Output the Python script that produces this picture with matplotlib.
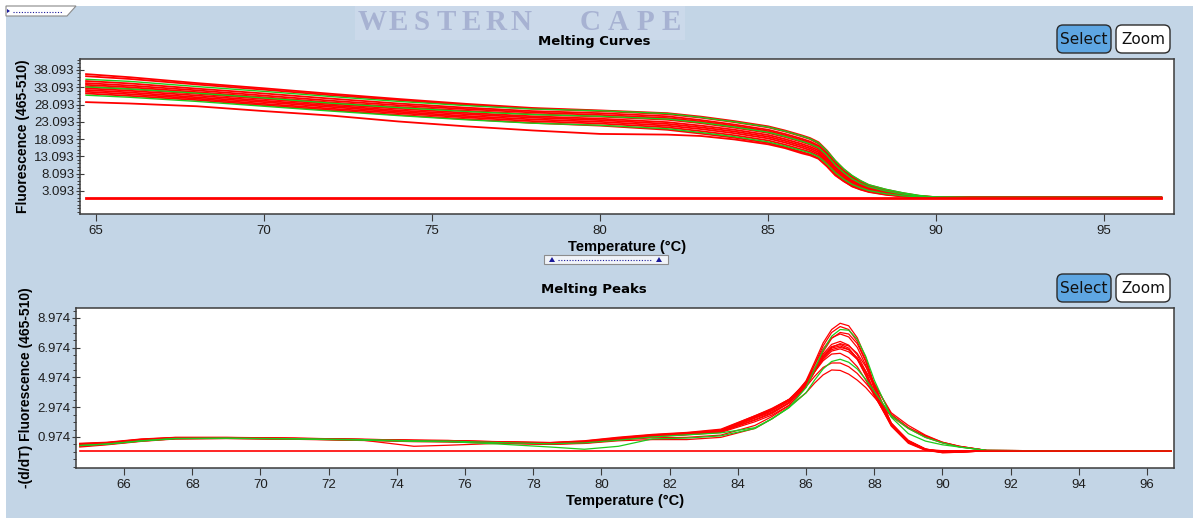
import matplotlib
matplotlib.use("Agg")
import matplotlib.pyplot as plt
from matplotlib.patches import FancyBboxPatch, Polygon, Rectangle
from matplotlib.ticker import MultipleLocator

plt.rcParams['font.family'] = ['Liberation Sans', 'DejaVu Sans']

W, H = 1193, 518
BG = '#c3d5e6'
RED = '#ff0000'
GREEN = '#1ecb1e'
INK = '#1e1e1e'

# ---------------- Melting curves (fluorescence vs temperature) ----------------
melt_temps = [64.7, 66, 68, 70, 72, 74, 76, 78, 80, 82, 83, 84, 85, 85.5, 86,
              86.25, 86.5, 86.75, 87, 87.25, 87.5, 87.75, 88,
              88.5, 89, 89.5, 90, 91, 93, 96.7]

melt_red_curves = [
    [36.9, 36.0, 34.3, 32.8, 31.2, 29.7, 28.3, 27.1, 26.4, 25.6, 24.6, 23.3, 21.8, 20.6, 19.2,
     18.4, 17.2, 14.8, 11.8, 9.4, 7.4, 6.0, 4.8, 3.5, 2.5, 1.7, 1.3, 1.2, 1.2, 1.2],
    [36.3, 35.5, 33.9, 32.4, 30.8, 29.4, 28.0, 26.9, 26.2, 25.3, 24.3, 23.0, 21.5, 20.3, 18.9,
     18.1, 16.8, 14.3, 11.2, 8.9, 7.0, 5.6, 4.5, 3.3, 2.3, 1.6, 1.3, 1.2, 1.2, 1.2],
    [34.9, 34.2, 32.7, 31.3, 29.8, 28.4, 27.2, 26.2, 25.6, 24.7, 23.6, 22.3, 20.8, 19.6, 18.2,
     17.4, 16.2, 13.8, 10.8, 8.5, 6.6, 5.3, 4.3, 3.1, 2.2, 1.55, 1.25, 1.2, 1.2, 1.2],
    [34.3, 33.6, 32.2, 30.7, 29.2, 27.9, 26.8, 25.8, 25.1, 24.2, 23.2, 21.9, 20.4, 19.2, 17.8,
     17.0, 15.8, 13.4, 10.4, 8.1, 6.3, 5.1, 4.1, 3.0, 2.1, 1.5, 1.25, 1.2, 1.2, 1.2],
    [33.8, 33.1, 31.7, 30.2, 28.7, 27.4, 26.3, 25.3, 24.6, 23.7, 22.7, 21.4, 19.9, 18.7, 17.3,
     16.5, 15.3, 12.9, 9.9, 7.8, 6.0, 4.8, 3.9, 2.8, 2.0, 1.45, 1.2, 1.2, 1.2, 1.2],
    [33.3, 32.6, 31.2, 29.7, 28.2, 26.9, 25.7, 24.7, 24.0, 23.0, 22.0, 20.8, 19.3, 18.1, 16.7,
     15.9, 14.8, 12.4, 9.4, 7.4, 5.7, 4.6, 3.7, 2.6, 1.9, 1.4, 1.2, 1.2, 1.2, 1.2],
    [32.8, 32.1, 30.7, 29.2, 27.8, 26.4, 25.3, 24.3, 23.6, 22.5, 21.5, 20.3, 18.8, 17.6, 16.2,
     15.4, 14.3, 11.9, 9.0, 7.0, 5.4, 4.4, 3.5, 2.5, 1.8, 1.35, 1.2, 1.2, 1.2, 1.2],
    [32.3, 31.6, 30.2, 28.8, 27.4, 26.0, 24.8, 23.8, 23.1, 22.0, 21.0, 19.8, 18.3, 17.1, 15.7,
     14.9, 13.8, 11.5, 8.6, 6.7, 5.1, 4.1, 3.3, 2.4, 1.7, 1.3, 1.2, 1.2, 1.2, 1.2],
    [31.8, 31.1, 29.8, 28.3, 26.9, 25.6, 24.4, 23.3, 22.6, 21.5, 20.4, 19.2, 17.7, 16.5, 15.1,
     14.4, 13.3, 11.0, 8.2, 6.3, 4.8, 3.9, 3.1, 2.2, 1.6, 1.3, 1.2, 1.2, 1.2, 1.2],
    [31.3, 30.6, 29.4, 27.9, 26.5, 25.1, 23.9, 22.8, 22.0, 20.8, 19.7, 18.5, 17.0, 15.8, 14.4,
     13.7, 12.6, 10.4, 7.8, 6.0, 4.4, 3.5, 2.8, 2.0, 1.5, 1.25, 1.2, 1.2, 1.2, 1.2],
    [28.8, 28.4, 27.6, 26.2, 24.9, 23.2, 21.8, 20.6, 19.6, 19.4, 19.0, 18.0, 16.6, 15.5, 14.0,
     13.4, 12.4, 10.2, 7.6, 5.9, 4.5, 3.6, 2.9, 2.1, 1.6, 1.3, 1.2, 1.2, 1.2, 1.2],
]

melt_green_curves = [
    [35.4, 34.8, 33.3, 31.9, 30.4, 29.0, 27.8, 26.8, 26.3, 25.5, 24.4, 23.1, 21.6, 20.4, 19.0,
     18.2, 17.0, 14.7, 11.9, 9.5, 7.6, 6.1, 4.9, 3.6, 2.6, 1.8, 1.35, 1.2, 1.2, 1.2],
    [33.2, 32.6, 31.4, 30.0, 28.5, 27.2, 26.1, 25.2, 24.7, 23.9, 22.9, 21.6, 20.1, 18.9, 17.5,
     16.7, 15.6, 13.4, 10.6, 8.4, 6.6, 5.3, 4.3, 3.1, 2.2, 1.6, 1.3, 1.2, 1.2, 1.2],
    [30.8, 30.2, 29.0, 27.6, 26.2, 24.9, 23.7, 22.7, 22.1, 21.1, 20.0, 18.8, 17.3, 16.1, 14.8,
     14.1, 13.0, 10.9, 8.4, 6.5, 5.0, 4.0, 3.2, 2.3, 1.7, 1.35, 1.2, 1.2, 1.2, 1.2],
]

melt_control_temps = [64.7, 96.7]
melt_control = [1.15, 1.15]

melt_xticks = [65, 70, 75, 80, 85, 90, 95]
melt_yticks = [3.093, 8.093, 13.093, 18.093, 23.093, 28.093, 33.093, 38.093]

# ---------------- Melting peaks (-dF/dT vs temperature) ----------------
peak_temps = [64.7, 65.5, 66.5, 67.5, 69, 71, 73, 74.5, 75.5, 77, 78.5, 79.5, 80.5, 81.5,
              82.5, 83.5, 84.5, 85, 85.5, 86, 86.25, 86.5, 86.75, 87, 87.25, 87.5, 87.75,
              88, 88.5, 89, 89.5, 90, 90.5, 91.3, 93, 96.7]

peak_red_curves = [
    [0.50, 0.58, 0.80, 0.92, 0.93, 0.88, 0.80, 0.74, 0.72, 0.64, 0.58, 0.66, 0.86, 1.05, 1.18,
     1.35, 2.25, 2.65, 3.30, 4.75, 6.00, 7.30, 8.20, 8.62, 8.45, 7.65, 6.30, 4.50, 1.90, 0.70,
     0.15, 0.05, 0.05, 0.05, 0.05, 0.05],
    [0.45, 0.55, 0.76, 0.90, 0.92, 0.86, 0.80, 0.72, 0.70, 0.62, 0.56, 0.62, 0.82, 1.02, 1.15,
     1.32, 2.10, 2.55, 3.25, 4.60, 5.85, 7.10, 8.00, 8.40, 8.20, 7.40, 6.10, 4.30, 1.80, 0.60,
     0.12, 0.02, 0.05, 0.05, 0.05, 0.05],
    [0.48, 0.56, 0.78, 0.90, 0.91, 0.87, 0.78, 0.73, 0.70, 0.63, 0.55, 0.64, 0.88, 1.08, 1.20,
     1.38, 2.30, 2.75, 3.40, 4.70, 5.80, 6.90, 7.65, 7.90, 7.70, 7.00, 5.80, 4.20, 1.80, 0.60,
     0.10, -0.05, 0.00, 0.05, 0.05, 0.05],
    [0.52, 0.60, 0.82, 0.94, 0.94, 0.89, 0.82, 0.76, 0.74, 0.65, 0.60, 0.70, 0.92, 1.12, 1.25,
     1.45, 2.40, 2.85, 3.50, 4.65, 5.60, 6.55, 7.20, 7.40, 7.15, 6.50, 5.40, 4.00, 1.90, 0.70,
     0.15, -0.05, -0.02, 0.05, 0.05, 0.05],
    [0.42, 0.52, 0.74, 0.88, 0.90, 0.85, 0.78, 0.70, 0.66, 0.58, 0.50, 0.56, 0.78, 0.92, 0.95,
     1.10, 1.75, 2.35, 3.10, 4.35, 5.35, 6.35, 7.00, 7.25, 7.10, 6.60, 5.70, 4.60, 2.50, 1.60,
     1.05, 0.62, 0.35, 0.07, 0.05, 0.05],
    [0.35, 0.48, 0.70, 0.86, 0.88, 0.84, 0.76, 0.35, 0.42, 0.55, 0.48, 0.60, 0.84, 1.05, 1.18,
     1.40, 2.30, 2.80, 3.45, 4.55, 5.45, 6.35, 6.95, 7.10, 6.85, 6.20, 5.10, 3.80, 1.75, 0.65,
     0.12, -0.08, -0.05, 0.05, 0.05, 0.05],
    [0.50, 0.58, 0.78, 0.90, 0.91, 0.86, 0.79, 0.72, 0.70, 0.62, 0.56, 0.66, 0.90, 1.10, 1.22,
     1.42, 2.35, 2.85, 3.50, 4.50, 5.40, 6.20, 6.75, 6.90, 6.70, 6.20, 5.40, 4.50, 2.60, 1.75,
     1.10, 0.62, 0.35, 0.07, 0.05, 0.05],
    [0.46, 0.55, 0.76, 0.89, 0.90, 0.86, 0.78, 0.72, 0.69, 0.60, 0.54, 0.62, 0.84, 1.04, 1.16,
     1.36, 2.25, 2.75, 3.45, 4.50, 5.35, 6.10, 6.55, 6.60, 6.30, 5.70, 4.80, 3.75, 1.85, 0.75,
     0.18, -0.05, -0.05, 0.05, 0.05, 0.05],
    [0.55, 0.62, 0.84, 0.95, 0.95, 0.90, 0.82, 0.76, 0.74, 0.66, 0.60, 0.72, 0.96, 1.15, 1.28,
     1.50, 2.40, 2.90, 3.50, 4.35, 5.05, 5.65, 5.95, 5.95, 5.70, 5.25, 4.60, 3.90, 2.45, 1.60,
     1.00, 0.60, 0.33, 0.07, 0.05, 0.05],
    [0.30, 0.45, 0.68, 0.84, 0.87, 0.82, 0.74, 0.66, 0.64, 0.56, 0.48, 0.54, 0.72, 0.80, 0.80,
     0.95, 1.55, 2.20, 3.00, 3.95, 4.60, 5.15, 5.48, 5.45, 5.20, 4.80, 4.30, 3.65, 2.35, 1.55,
     0.95, 0.58, 0.32, 0.07, 0.05, 0.05],
    [0.44, 0.54, 0.74, 0.87, 0.89, 0.84, 0.78, 0.70, 0.68, 0.60, 0.52, 0.60, 0.80, 1.02, 1.15,
     1.32, 2.15, 2.60, 3.25, 4.40, 5.35, 6.25, 6.85, 7.00, 6.85, 6.30, 5.30, 4.00, 1.80, 0.70,
     0.15, -0.05, -0.02, 0.05, 0.05, 0.05],
    [0.48, 0.57, 0.79, 0.91, 0.92, 0.87, 0.80, 0.74, 0.71, 0.63, 0.57, 0.66, 0.88, 1.08, 1.20,
     1.38, 2.30, 2.75, 3.40, 4.55, 5.50, 6.45, 7.05, 7.20, 6.95, 6.25, 5.15, 3.85, 1.70, 0.55,
     0.08, -0.08, -0.05, 0.05, 0.05, 0.05],
    [0.42, 0.52, 0.74, 0.88, 0.90, 0.85, 0.78, 0.70, 0.68, 0.60, 0.53, 0.60, 0.80, 1.00, 1.12,
     1.28, 2.00, 2.45, 3.10, 4.35, 5.50, 6.70, 7.60, 8.00, 7.90, 7.25, 6.05, 4.40, 1.90, 0.70,
     0.15, 0.00, 0.00, 0.05, 0.05, 0.05],
]

peak_green_curves = [
    [0.40, 0.50, 0.72, 0.88, 0.90, 0.86, 0.80, 0.72, 0.70, 0.60, 0.52, 0.58, 0.76, 0.98, 1.12,
     1.25, 1.60, 2.20, 2.95, 4.30, 5.55, 6.80, 7.75, 8.20, 8.15, 7.55, 6.40, 4.80, 2.30, 1.20,
     0.70, 0.45, 0.30, 0.07, 0.05, 0.05],
    [0.40, 0.50, 0.70, 0.86, 0.88, 0.84, 0.76, 0.68, 0.66, 0.50, 0.30, 0.15, 0.35, 0.85, 0.90,
     1.05, 1.55, 2.20, 2.95, 3.95, 4.80, 5.55, 6.05, 6.20, 6.00, 5.55, 4.85, 4.05, 2.40, 1.55,
     0.95, 0.58, 0.30, 0.07, 0.05, 0.05],
]

peak_control_temps = [64.7, 96.7]
peak_control = [0.05, 0.05]

peak_xticks = [66, 68, 70, 72, 74, 76, 78, 80, 82, 84, 86, 88, 90, 92, 94, 96]
peak_yticks = [0.974, 2.974, 4.974, 6.974, 8.974]

# ---------------- figure and pixel-space backdrop ----------------
fig = plt.figure(figsize=(W / 100, H / 100), dpi=100, facecolor=BG)
bg = fig.add_axes([0, 0, 1, 1], zorder=0)
bg.set_xlim(0, W)
bg.set_ylim(H, 0)
bg.axis('off')

# white frame strips along the top and left edges
bg.add_patch(Rectangle((0, 0), W, 6, facecolor='white', edgecolor='none'))
bg.add_patch(Rectangle((0, 0), 6, H, facecolor='white', edgecolor='none'))

# collapsed tab in the upper-left corner
bg.add_patch(Polygon([(6, 6), (76, 6), (67, 16), (6, 16)], closed=True,
                     facecolor='white', edgecolor='#8a8a8a', lw=0.8))
bg.add_patch(Polygon([(7, 9), (7, 13), (10, 11)], closed=True,
                     facecolor='#1a1a9a', edgecolor='none'))
bg.plot([13, 63], [11.5, 11.5], color='#1a1a9a', lw=0.8, ls=(0, (1, 1.5)))

# watermark
bg.add_patch(Rectangle((355, 6), 330, 34, facecolor='#cbd9ea', edgecolor='none'))
wm_letters = ['W', 'E', 'S', 'T', 'E', 'R', 'N', 'C', 'A', 'P', 'E']
wm_x = [372, 398, 422, 446, 471, 496, 521, 590, 618, 645, 671]
for ch, x in zip(wm_letters, wm_x):
    bg.text(x, 23, ch, ha='center', va='center', fontsize=21,
            fontfamily='Liberation Serif', fontweight='bold', color='#a7b2d2')

# panel titles
bg.text(594, 41.5, 'Melting Curves', ha='center', va='center', fontsize=9.5,
        fontfamily='DejaVu Sans', fontweight='bold', color='black', zorder=5)
bg.text(594, 290, 'Melting Peaks', ha='center', va='center', fontsize=9.5,
        fontfamily='DejaVu Sans', fontweight='bold', color='black', zorder=5)


def button(x, y, w, h, label, face):
    bg.add_patch(FancyBboxPatch((x, y), w, h, boxstyle='round,pad=0,rounding_size=6',
                                facecolor=face, edgecolor='#2b2b2b', lw=1.0))
    bg.text(x + w / 2, y + h / 2 + 0.5, label, ha='center', va='center', fontsize=11,
            fontfamily='DejaVu Sans', color='#111111')


for ytop in (25, 274):
    button(1057, ytop, 54, 28, 'Select', '#5ea6e2')
    button(1116, ytop, 54, 28, 'Zoom', 'white')

# splitter handle between the two panels
bg.add_patch(Rectangle((544, 255), 124, 9, facecolor='#f1f4f9', edgecolor='#8c8c8c', lw=0.8))
bg.plot([558, 652], [259.5, 259.5], color='#1a1a9a', lw=0.8, ls=(0, (1, 1.5)))
for cx in (552, 659):
    bg.add_patch(Polygon([(cx - 3, 262), (cx + 3, 262), (cx, 257)], closed=True,
                         facecolor='#1a1a9a', edgecolor='none'))


def px_axes(x0, y0, x1, y1):
    return fig.add_axes([x0 / W, 1 - y1 / H, (x1 - x0) / W, (y1 - y0) / H], zorder=2)


def style(ax):
    for s in ax.spines.values():
        s.set_color('#3c3c3c')
        s.set_linewidth(1.1)
    ax.tick_params(axis='x', which='major', direction='out', length=5, width=0.8,
                   color='#3c3c3c', labelsize=9.5, labelcolor=INK, pad=3)
    ax.tick_params(axis='y', which='major', direction='inout', length=6, width=0.8,
                   color='#3c3c3c', labelsize=9.5, labelcolor=INK, pad=1)
    ax.tick_params(axis='y', which='minor', direction='out', length=2.5, width=0.7,
                   color='#3c3c3c')
    ax.set_facecolor('white')


# ---------------- upper panel: melting curves ----------------
ax1 = px_axes(80, 59, 1174, 214)
for ys in melt_red_curves:
    ax1.plot(melt_temps, ys, color=RED, lw=1.3)
for ys in melt_green_curves:
    ax1.plot(melt_temps, ys, color=GREEN, lw=1.0)
ax1.plot(melt_control_temps, melt_control, color=RED, lw=2.0)
ax1.set_xlim(64.52, 97.08)
ax1.set_ylim(-3.56, 41.27)
ax1.set_xticks(melt_xticks)
ax1.set_xticklabels([str(v) for v in melt_xticks])
ax1.set_yticks(melt_yticks)
ax1.set_yticklabels([f'{v:.3f}' for v in melt_yticks])
ax1.yaxis.set_minor_locator(MultipleLocator(1.0, offset=0.093))
style(ax1)
ax1.set_xlabel('Temperature (°C)', fontsize=10.5, fontweight='bold', color='black', labelpad=2)
ax1.set_ylabel('Fluorescence (465-510)', fontsize=10, fontweight='bold', color='black',
               labelpad=3)

# ---------------- lower panel: melting peaks ----------------
ax2 = px_axes(76, 308, 1174, 468)
for ys in peak_red_curves:
    ax2.plot(peak_temps, ys, color=RED, lw=0.9)
for ys in peak_green_curves:
    ax2.plot(peak_temps, ys, color=GREEN, lw=0.9)
ax2.plot(peak_control_temps, peak_control, color=RED, lw=1.2)
ax2.set_xlim(64.59, 96.79)
ax2.set_ylim(-1.11, 9.646)
ax2.set_xticks(peak_xticks)
ax2.set_xticklabels([str(v) for v in peak_xticks])
ax2.set_yticks(peak_yticks)
ax2.set_yticklabels([f'{v:.3f}' for v in peak_yticks])
ax2.yaxis.set_minor_locator(MultipleLocator(0.5, offset=0.474))
style(ax2)
ax2.set_xlabel('Temperature (°C)', fontsize=10.5, fontweight='bold', color='black', labelpad=2)
ax2.set_ylabel('-(d/dT) Fluorescence (465-510)', fontsize=10, fontweight='bold',
               color='black', labelpad=3)

fig.savefig('out.png', dpi=100, facecolor=BG)
